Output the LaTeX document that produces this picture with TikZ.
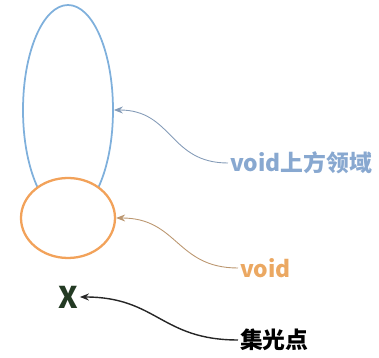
\documentclass[tikz,border=0pt]{standalone}
\usepackage{fontspec}
\newfontfamily\cjk{Noto Sans CJK SC}
\usepackage{tikz}
\usetikzlibrary{arrows.meta, positioning, shapes.geometric}
\definecolor{vblue}{HTML}{7FB0DC}
\definecolor{vbluetx}{HTML}{88A8D0}
\definecolor{vorange}{HTML}{F2A25A}
\definecolor{vorangetx}{HTML}{EBA862}
\definecolor{xgreen}{HTML}{233A23}
\tikzset{
  voidell/.style  = {ellipse, draw=vorange, fill=white, line width=1.3pt,
                     minimum width=1.88cm, minimum height=1.6cm, inner sep=0pt},
  upperell/.style = {ellipse, draw=vblue, line width=1pt,
                     minimum width=1.8cm, minimum height=4.2cm, inner sep=0pt},
  lab/.style      = {font=\cjk\bfseries\fontsize{13}{15}\selectfont,
                     inner sep=1pt, anchor=west},
  pointer/.style  = {line width=0.5pt, -{Stealth[length=1.8mm, width=1.4mm]}},
}
\begin{document}
\begin{tikzpicture}[x=1cm, y=1cm]
  \useasboundingbox (0,0) rectangle (7.58,7.16);
  % regions
  \node[upperell] (upper) at (1.36,4.96) {};
  \node[voidell]  (void)  at (1.36,2.80) {};
  \node[font=\cjk\bfseries\fontsize{17}{18}\selectfont, text=xgreen,
        inner sep=1pt] (focus) at (1.36,1.22) {X};
  % labels
  \node[lab, text=vbluetx]   (upperlab) at (4.56,3.90) {void上方领域};
  \node[lab, text=vorangetx] (voidlab)  at (4.76,1.80) {void};
  \node[lab, text=black]     (focuslab) at (4.76,0.36) {集光点};
  % pointers
  \draw[pointer, draw=vbluetx!70!gray]
    (upperlab.west) to[out=180, in=0, looseness=1.2] (upper.east);
  \draw[pointer, draw=vorangetx!55!gray]
    (voidlab.west) to[out=180, in=0, looseness=1.2] (void.east);
  \draw[pointer, line width=0.8pt, draw=black!85]
    (focuslab.west) to[out=180, in=0, looseness=1.2] (focus.east);
\end{tikzpicture}
\end{document}
